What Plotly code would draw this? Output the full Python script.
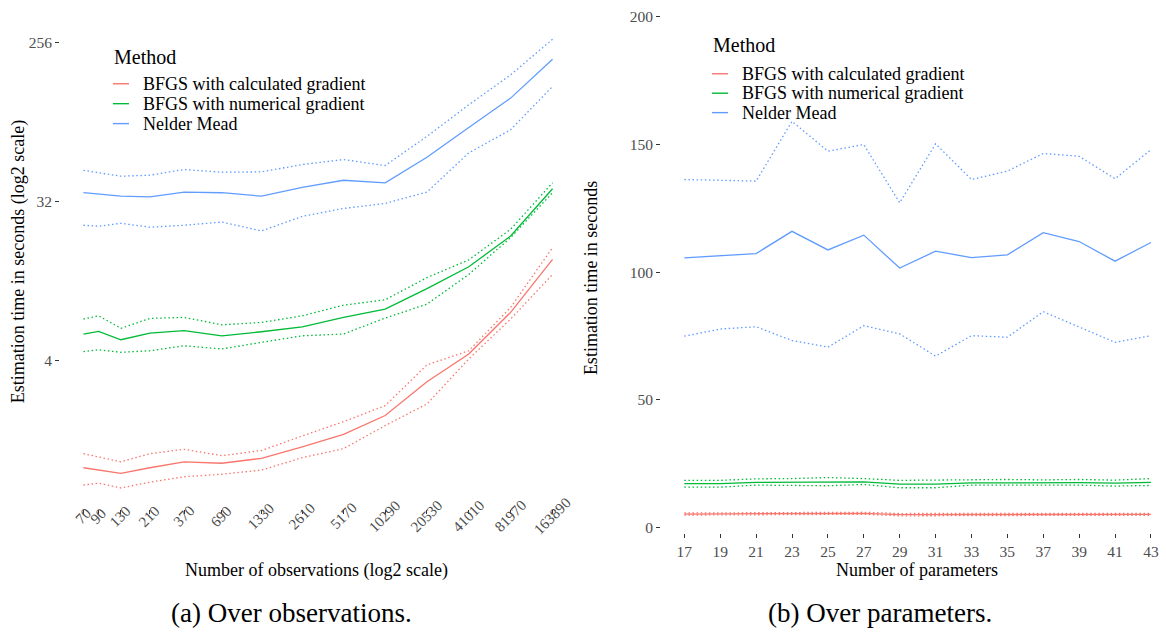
import numpy as np
import plotly.graph_objects as go

# ---- data: estimation time by number of observations (log2 axes) ----
obs = [70, 90, 130, 210, 370, 690, 1330, 2610, 5170, 10290, 20530, 41010, 81970, 163890]
obs_labels = ["70", "90", "130", "210", "370", "690", "1330", "2610", "5170",
              "10290", "20530", "41010", "81970", "163890"]

calc_obs_mean = [0.99, 0.96, 0.92, 0.99, 1.07, 1.05, 1.12, 1.30, 1.53, 1.96, 3.05, 4.38, 7.55, 15.1]
calc_obs_hi = [1.19, 1.14, 1.07, 1.19, 1.26, 1.16, 1.24, 1.50, 1.81, 2.23, 3.80, 4.57, 8.06, 17.6]
calc_obs_lo = [0.79, 0.81, 0.76, 0.82, 0.88, 0.91, 0.96, 1.13, 1.27, 1.72, 2.28, 4.11, 6.92, 12.4]

num_obs_mean = [5.69, 5.89, 5.28, 5.76, 5.94, 5.56, 5.86, 6.25, 7.07, 7.89, 10.3, 13.7, 20.5, 38.0]
num_obs_hi = [6.92, 7.22, 6.13, 6.98, 7.07, 6.42, 6.62, 7.22, 8.30, 8.90, 11.9, 15.0, 22.4, 41.1]
num_obs_lo = [4.52, 4.63, 4.48, 4.57, 4.88, 4.68, 5.10, 5.56, 5.69, 7.01, 8.41, 12.4, 20.1, 36.1]

nm_obs_mean = [36.1, 35.3, 34.5, 34.2, 36.4, 36.1, 34.5, 38.7, 42.5, 41.1, 57.4, 84.8, 124.4, 207.0]
nm_obs_hi = [48.4, 46.8, 44.8, 45.4, 48.9, 47.2, 47.4, 52.2, 55.7, 51.5, 75.4, 114.0, 168.6, 268.6]
nm_obs_lo = [23.6, 23.3, 24.2, 23.0, 23.6, 24.6, 21.9, 26.5, 29.4, 31.4, 36.4, 60.8, 82.3, 145.0]

obs_y_ticks = [4, 32, 256]

# ---- data: estimation time by number of parameters ----
params = [17, 19, 21, 23, 25, 27, 29, 31, 33, 35, 37, 39, 41, 43]

calc_par_mean = [5.2, 5.25, 5.3, 5.4, 5.4, 5.5, 4.95, 5.0, 5.1, 5.1, 5.2, 5.1, 5.1, 5.1]
calc_par_hi = [5.6, 5.65, 5.7, 5.8, 5.8, 5.9, 5.4, 5.4, 5.5, 5.5, 5.6, 5.5, 5.5, 5.5]
calc_par_lo = [4.8, 4.85, 4.9, 5.0, 5.0, 5.1, 4.5, 4.6, 4.7, 4.7, 4.8, 4.7, 4.7, 4.7]

num_par_mean = [17.1, 17.1, 17.6, 17.7, 17.8, 17.8, 16.9, 16.9, 17.4, 17.5, 17.5, 17.5, 17.3, 17.6]
num_par_hi = [18.4, 18.4, 19.0, 19.1, 19.5, 19.1, 18.4, 18.5, 18.75, 18.75, 18.6, 18.75, 18.5, 19.1]
num_par_lo = [15.75, 15.75, 16.54, 16.54, 16.28, 16.8, 15.5, 15.5, 16.54, 16.54, 16.54, 16.54, 16.15, 16.41]

nm_par_mean = [105.6, 106.4, 107.3, 116.0, 108.7, 114.5, 101.6, 108.2, 105.7, 106.8, 115.5, 112.0, 104.3, 111.6]
nm_par_hi = [136.3, 136.0, 135.7, 159.1, 147.4, 150.0, 127.2, 150.3, 136.3, 139.6, 146.5, 145.4, 136.6, 148.0]
nm_par_lo = [74.9, 77.7, 78.6, 73.2, 70.6, 79.0, 75.8, 67.1, 75.1, 74.5, 84.5, 78.4, 72.5, 75.1]

par_y_ticks = [0, 50, 100, 150, 200]

methods = ["BFGS with calculated gradient", "BFGS with numerical gradient", "Nelder Mead"]
colors = ["#F8766D", "#00BA38", "#619CFF"]

W, H = 1166, 635
FONT = "'Liberation Serif', 'Times New Roman', Times, serif"
TICK_COLOR = "#4D4D4D"


def px_x(p):
    return p / W


def px_y(p):
    return 1 - p / H


fig = go.Figure()

obs_series = [
    (calc_obs_mean, calc_obs_hi, calc_obs_lo),
    (num_obs_mean, num_obs_hi, num_obs_lo),
    (nm_obs_mean, nm_obs_hi, nm_obs_lo),
]
par_series = [
    (calc_par_mean, calc_par_hi, calc_par_lo),
    (num_par_mean, num_par_hi, num_par_lo),
    (nm_par_mean, nm_par_hi, nm_par_lo),
]

DOT = "1.5px,2.6px"
LW = 1.3

for (mean, hi, lo), name, col in zip(obs_series, methods, colors):
    for band in (hi, lo):
        fig.add_trace(go.Scatter(x=obs, y=band, mode="lines", xaxis="x", yaxis="y",
                                 line=dict(color=col, width=LW, dash=DOT),
                                 showlegend=False, hoverinfo="skip"))
    fig.add_trace(go.Scatter(x=obs, y=mean, mode="lines", xaxis="x", yaxis="y",
                             name=name, showlegend=False,
                             line=dict(color=col, width=LW)))

for (mean, hi, lo), name, col in zip(par_series, methods, colors):
    for band in (hi, lo):
        fig.add_trace(go.Scatter(x=params, y=band, mode="lines", xaxis="x2", yaxis="y2",
                                 line=dict(color=col, width=LW, dash=DOT),
                                 showlegend=False, hoverinfo="skip"))
    fig.add_trace(go.Scatter(x=params, y=mean, mode="lines", xaxis="x2", yaxis="y2",
                             name=name, showlegend=False,
                             line=dict(color=col, width=LW)))

# Left panel geometry (log2 scale on both axes, 5% padding like ggplot)
lx = np.log10(obs)
lx_pad = 0.05 * (lx.max() - lx.min())
left_xrange = [lx.min() - lx_pad, lx.max() + lx_pad]
left_yrange = [np.log10(2 ** -0.80), np.log10(2 ** 8.49)]

axis_common = dict(showgrid=False, zeroline=False, showline=False,
                   ticks="outside", ticklen=4, tickwidth=1, tickcolor="#333333",
                   tickfont=dict(family=FONT, size=15.5, color=TICK_COLOR))

fig.update_layout(
    width=W, height=H,
    margin=dict(l=0, r=0, t=0, b=0),
    paper_bgcolor="white", plot_bgcolor="white",
    font=dict(family=FONT, color="black"),
    showlegend=False,
    xaxis=dict(axis_common, type="log", domain=[px_x(60), px_x(576)],
               range=left_xrange, tickvals=obs, showticklabels=False,
               anchor="y"),
    yaxis=dict(axis_common, type="log", domain=[px_y(511), px_y(17)],
               range=left_yrange, tickvals=obs_y_ticks,
               ticktext=[str(v) for v in obs_y_ticks], anchor="x"),
    xaxis2=dict(axis_common, domain=[px_x(661), 1.0], range=[15.7, 43.84],
                tickvals=params, ticktext=[str(v) for v in params],
                anchor="y2"),
    yaxis2=dict(axis_common, domain=[px_y(535), px_y(5)], range=[-2.35, 204.7],
                tickvals=par_y_ticks, anchor="x2"),
)

annotations = []
shapes = []

# Rotated tick labels, centred under each tick of the observations axis
for v, lab in zip(obs, obs_labels):
    annotations.append(dict(x=np.log10(v), y=px_y(518), xref="x", yref="paper",
                            text=lab, showarrow=False, textangle=-45,
                            xanchor="center", yanchor="middle",
                            font=dict(family=FONT, size=15, color=TICK_COLOR)))


def label(x, y, text, size=18, angle=0, anchor="center", color="black"):
    return dict(x=px_x(x), y=px_y(y), xref="paper", yref="paper", text=text,
                showarrow=False, textangle=angle, xanchor=anchor,
                yanchor="middle", font=dict(family=FONT, size=size, color=color))


annotations += [
    label(316, 572, "Number of observations (log2 scale)"),
    label(18, 263, "Estimation time in seconds (log2 scale)", angle=-90),
    label(917, 572, "Number of parameters"),
    label(591, 279, "Estimation time in seconds", angle=-90),
    # Sub-figure captions
    label(291, 615, "(a) Over observations.", size=27),
    label(880, 615, "(b) Over parameters.", size=27),
]


# Legend blocks ("Method" title, key line and label per method)
def legend_block(left, title_y, first_item_y, step=20):
    annotations.append(label(left, title_y, "Method", size=20, anchor="left"))
    for i, (name, col) in enumerate(zip(methods, colors)):
        yy = first_item_y + i * step
        shapes.append(dict(type="line", xref="paper", yref="paper",
                           x0=px_x(left + 1), x1=px_x(left + 17),
                           y0=px_y(yy), y1=px_y(yy),
                           line=dict(color=col, width=1.4)))
        annotations.append(label(left + 29, yy, name, size=18, anchor="left"))


legend_block(112, 57, 84)
legend_block(711, 45, 74, step=19.5)

fig.update_layout(annotations=annotations, shapes=shapes)

fig.write_html("out.html")
